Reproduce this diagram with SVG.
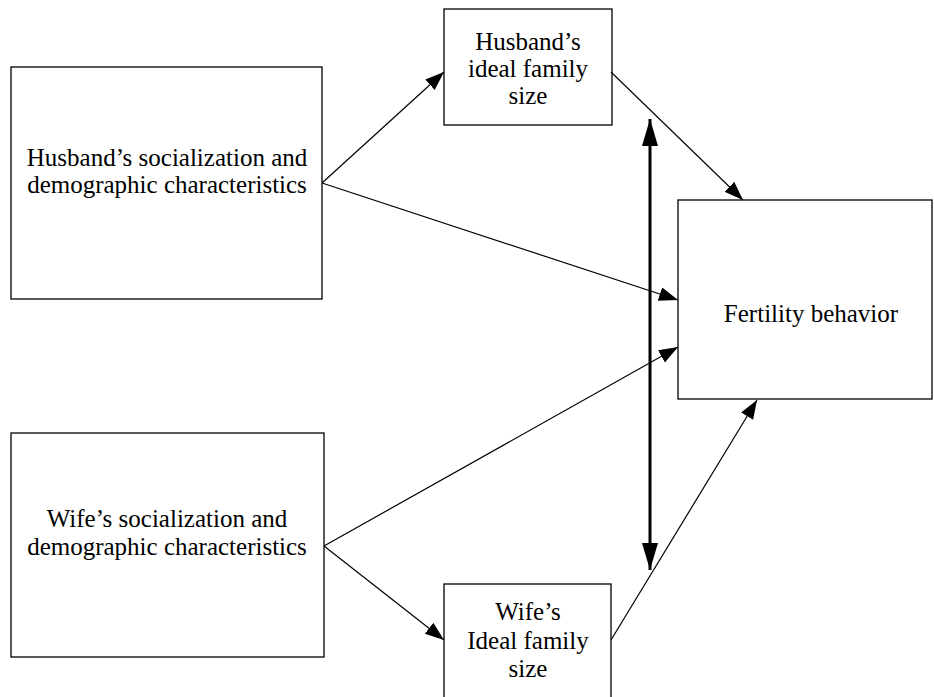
<svg xmlns="http://www.w3.org/2000/svg" width="934" height="697" viewBox="0 0 934 697">
<style>
.box{fill:#fff;stroke:#000;stroke-width:1.3}
text{font-family:'Liberation Serif','Times New Roman',serif;font-size:25px;fill:#000;text-anchor:middle}
.c{stroke:#000;stroke-width:1.2;fill:none}
.d{stroke:#000;stroke-width:3;fill:none}
</style>
<defs>
<marker id="ah" markerUnits="userSpaceOnUse" markerWidth="20" markerHeight="16" refX="19" refY="7" orient="auto"><path d="M0,0 L19,7 L0,14 Z" fill="#000"/></marker>
<marker id="ahd" markerUnits="userSpaceOnUse" markerWidth="28" markerHeight="18" refX="27" refY="8" orient="auto-start-reverse"><path d="M0,0 L27,8 L0,16 Z" fill="#000"/></marker>
</defs>
<rect width="934" height="697" fill="#fff"/>
<g id="husband-soc"><rect class="box" x="11" y="67" width="311" height="232"/><text x="167" y="166">Husband’s socialization and</text><text x="167" y="193">demographic characteristics</text></g>
<g id="husband-ideal"><rect class="box" x="444" y="9" width="168" height="116"/><text x="528" y="50">Husband’s</text><text x="528" y="77">ideal family</text><text x="528" y="104">size</text></g>
<g id="fertility"><rect class="box" x="678" y="200" width="254" height="199"/><text x="811" y="322">Fertility behavior</text></g>
<g id="wife-soc"><rect class="box" x="11" y="433" width="313" height="224"/><text x="167" y="527">Wife’s socialization and</text><text x="167" y="555">demographic characteristics</text></g>
<g id="wife-ideal"><rect class="box" x="444" y="584" width="167" height="120"/><text x="528" y="620">Wife’s</text><text x="528" y="649">Ideal family</text><text x="528" y="677">size</text></g>
<g id="connectors">
<line class="c" x1="322" y1="183" x2="444" y2="72" marker-end="url(#ah)"/>
<line class="c" x1="322" y1="183" x2="678" y2="300" marker-end="url(#ah)"/>
<line class="c" x1="611" y1="72" x2="743" y2="200" marker-end="url(#ah)"/>
<line class="c" x1="324" y1="546" x2="678" y2="347" marker-end="url(#ah)"/>
<line class="c" x1="324" y1="546" x2="444" y2="640" marker-end="url(#ah)"/>
<line class="c" x1="611" y1="640" x2="757" y2="400" marker-end="url(#ah)"/>
<line class="d" x1="650" y1="119" x2="650" y2="570" marker-start="url(#ahd)" marker-end="url(#ahd)"/>
</g>
</svg>
